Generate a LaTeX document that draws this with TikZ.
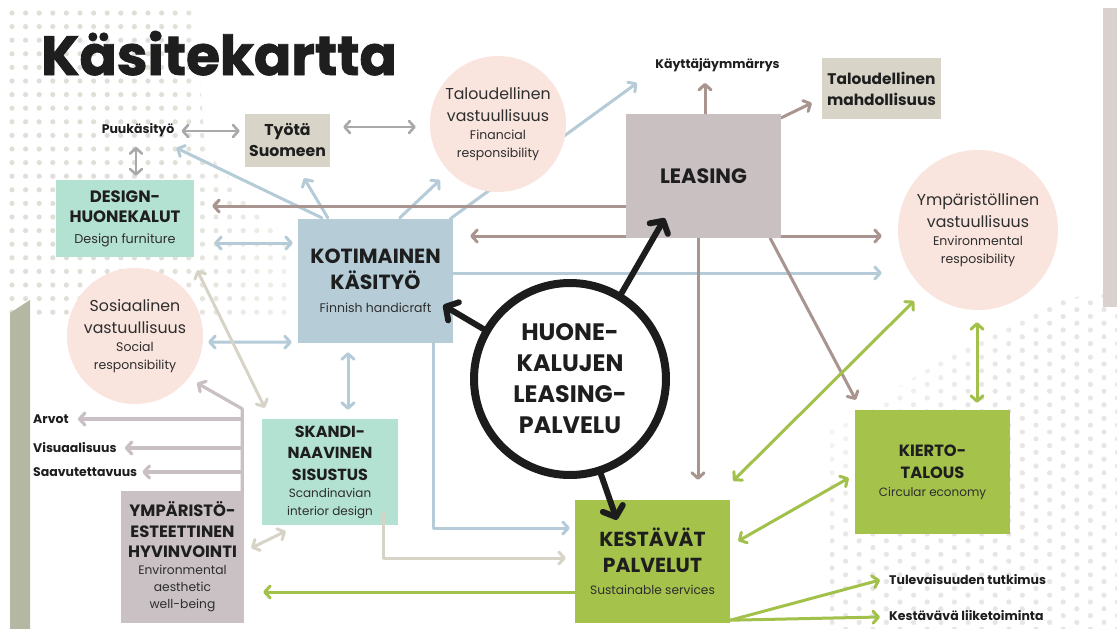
\documentclass[tikz,border=0pt]{standalone}
\usepackage{fontspec}
\setmainfont{Poppins}
\newfontfamily\titlefont{Poppins}[BoldFeatures={FakeBold=1.5}]
\usetikzlibrary{arrows.meta,calc}
\pgfdeclarelayer{dotlayer}
\pgfdeclarelayer{linelayer}
\pgfsetlayers{dotlayer,linelayer,main}
\definecolor{cblue}{HTML}{B5CCD8}
\definecolor{cbrown}{HTML}{A8958F}
\definecolor{cgray}{HTML}{A9A9A9}
\definecolor{cgreen}{HTML}{A2C14A}
\definecolor{cbeige}{HTML}{D7D4C7}
\definecolor{clilac}{HTML}{C9C0C6}
\definecolor{cblack}{HTML}{1C1C1C}
\definecolor{fmint}{HTML}{B3E1D2}
\definecolor{fbluebox}{HTML}{B6CDD8}
\definecolor{fpink}{HTML}{F9E5DE}
\definecolor{ftaupe}{HTML}{D8D4C8}
\definecolor{fleasing}{HTML}{C9C0C2}
\definecolor{fymp}{HTML}{C9C1C4}
\definecolor{fgreen}{HTML}{A5C24B}
\definecolor{stripc}{HTML}{B4B7A1}
\definecolor{rstripc}{HTML}{D9D1CE}
\definecolor{dotone}{HTML}{E0DFD7}
\definecolor{dottwo}{HTML}{EAE5E5}
\definecolor{txt}{HTML}{1E1E1E}
\definecolor{subtxt}{HTML}{2E2E2E}
\newcommand\Lb[2]{{\bfseries\fontsize{#1}{#1}\selectfont #2}}
\newcommand\Lr[2]{{\color{subtxt}\fontsize{#1}{#1}\selectfont #2}}
\tikzset{
  chev/.tip={Straight Barb[length=5.5pt,width=12pt,round]},
  bchev/.tip={Straight Barb[length=9pt,width=21pt,round]},
  box/.style={rectangle, inner sep=0pt, align=center, text=txt},
  circ/.style={circle, fill=fpink, inner sep=0pt, align=center, text=txt},
  lbl/.style={inner sep=0pt, text=txt, font=\bfseries\fontsize{12.5}{14}\selectfont},
  conn/.style={line width=3pt, line cap=round, line join=round},
  garr/.style={conn, line width=2.6pt, draw=cgray},
  barr/.style={conn, draw=cblue},
  rarr/.style={conn, draw=cbrown},
  larr/.style={conn, line width=3.2pt, draw=clilac},
  earr/.style={conn, draw=cbeige},
  narr/.style={conn, draw=cgreen},
  karr/.style={line width=6pt, line cap=round, line join=round, draw=cblack, -bchev},
}
\begin{document}
\begin{tikzpicture}[x=1pt,y=-1pt]
\useasboundingbox (0,0) rectangle (1117,629);
\begin{pgfonlayer}{dotlayer}
\fill[white] (0,0) rectangle (1117,629);
\begin{scope}
\clip (0,6) -- (195,6) -- (205,150) -- (290,250) -- (290,322) -- (0,322) -- cycle;
\foreach \i in {0,...,21} {
  \foreach \j in {0,...,23} {
    \pgfmathsetmacro\op{min(1,max(0.15,1.6-0.055*\i))}
    \fill[dotone, opacity=\op] ({12+13.6*\i}, {13+13.6*\j}) circle (2.6);
  }
}
\end{scope}
\begin{scope}
\clip (1117,290) -- (1117,629) -- (830,629) -- (830,430) -- (990,330) -- (1060,300) -- cycle;
\foreach \i in {0,...,21} {
  \foreach \j in {0,...,25} {
    \pgfmathsetmacro\xx{832+13.6*\i}
    \pgfmathsetmacro\yy{296+13.6*\j+6.8*mod(\i,2)}
    \pgfmathsetmacro\op{min(1,max(0.12,(\xx-840)/200+(\yy-330)/220))}
    \fill[dottwo, opacity=\op] (\xx,\yy) circle (2.6);
  }
}
\end{scope}
\fill[stripc] (10,313) -- (30,300) -- (30,629) -- (10,629) -- cycle;
\fill[rstripc] (1103,8) rectangle (1117,307);
\end{pgfonlayer}

% title
\node[anchor=base west, inner sep=0pt, text=txt, font=\titlefont\bfseries\fontsize{55}{55}\selectfont] (title) at (41,75) {Käsitekartta};

% nodes
\node[lbl] (puu) at (138,130) {Puukäsityö};
\node[box, fill=ftaupe, minimum width=85, minimum height=53, font=\fontsize{14}{21}\selectfont] (tyota) at (287.5,140.5) {\Lb{15.7}{Työtä}\\\Lb{15.7}{Suomeen}};
\node[box, fill=fmint, minimum width=138, minimum height=77, font=\fontsize{14}{20.5}\selectfont] (design) at (125,218.5) {\Lb{16.5}{DESIGN-}\\\Lb{16.5}{HUONEKALUT}\\\Lr{12.8}{Design furniture}};
\node[circ, minimum size=136, font=\fontsize{11.5}{17.5}\selectfont] (talv) at (498,124) {\Lr{15.8}{Taloudellinen}\\[4.5pt]\Lr{15.8}{vastuullisuus}\\[0.5pt]\Lr{12.5}{Financial}\\\Lr{12.5}{responsibility}};
\node[lbl] (kayt) at (717.5,65) {Käyttäjäymmärrys};
\node[box, fill=fleasing, minimum width=155, minimum height=124] (leasing) at (703.5,176) {\Lb{20.8}{LEASING}};
\node[box, fill=ftaupe, minimum width=119, minimum height=61, font=\fontsize{14}{21}\selectfont] (talm) at (881.5,88.5) {\Lb{15.4}{Taloudellinen}\\\Lb{15.4}{mahdollisuus}};
\node[circ, minimum size=160, font=\fontsize{11.5}{17.5}\selectfont] (ymv) at (978,230) {\Lr{15.8}{Ympäristöllinen}\\[4.5pt]\Lr{15.8}{vastuullisuus}\\[0.5pt]\Lr{12.5}{Environmental}\\\Lr{12.5}{resposibility}};
\node[box, fill=fbluebox, minimum width=155, minimum height=124, font=\fontsize{12}{23}\selectfont] (koti) at (375.5,281) {\Lb{20.5}{KOTIMAINEN}\\[3pt]\Lb{20.5}{KÄSITYÖ}\\\Lr{12.5}{Finnish handicraft}};
\node[circ, minimum size=136, font=\fontsize{11.5}{17.5}\selectfont] (sos) at (135,336) {\Lr{15.8}{Sosiaalinen}\\[4.5pt]\Lr{15.8}{vastuullisuus}\\[0.5pt]\Lr{12.5}{Social}\\\Lr{12.5}{responsibility}};
\node[circle, draw=cblack, line width=8pt, fill=white, inner sep=0pt, minimum size=192, align=center, text=txt, font=\fontsize{22}{31}\selectfont] (hub) at (570,379) {\Lb{23.8}{HUONE-}\\\Lb{23.8}{KALUJEN}\\\Lb{23.8}{LEASING-}\\\Lb{23.8}{PALVELU}};
\node[box, fill=fmint, minimum width=136, minimum height=106, font=\fontsize{12}{17.5}\selectfont] (skandi) at (330,472) {\Lb{16}{SKANDI-}\\[4pt]\Lb{16}{NAAVINEN}\\[4pt]\Lb{16}{SISUSTUS}\\\Lr{12}{Scandinavian}\\\Lr{12}{interior design}};
\node[box, fill=fymp, minimum width=123, minimum height=132, font=\fontsize{12}{17}\selectfont] (ymp) at (182.5,557) {\Lb{16.4}{YMPÄRISTÖ-}\\[3.5pt]\Lb{16.4}{ESTEETTINEN}\\[3.5pt]\Lb{16.4}{HYVINVOINTI}\\\Lr{12.3}{Environmental}\\\Lr{12.3}{aesthetic}\\\Lr{12.3}{well-being}};
\node[box, fill=fgreen, minimum width=155, minimum height=123, font=\fontsize{12}{22.5}\selectfont] (kest) at (652.5,561.5) {\Lb{20.3}{KESTÄVÄT}\\[3.5pt]\Lb{20.3}{PALVELUT}\\\Lr{12.2}{Sustainable services}};
\node[box, fill=fgreen, minimum width=155, minimum height=124, font=\fontsize{12}{18}\selectfont] (kierto) at (932.5,472) {\Lb{16.3}{KIERTO-}\\[4pt]\Lb{16.3}{TALOUS}\\\Lr{12}{Circular economy}};
\node[lbl, anchor=west] (tul) at (889,580) {Tulevaisuuden tutkimus};
\node[lbl, anchor=west] (kestl) at (889,616) {Kestävävä liiketoiminta};
\node[lbl, anchor=west] (arvot) at (33,419) {Arvot};
\node[lbl, anchor=west] (visu) at (33,448) {Visuaalisuus};
\node[lbl, anchor=west] (saav) at (33,472) {Saavutettavuus};

\coordinate (bfree) at (637,83);
\coordinate (lj) at ($(ymp.north east)+(-2,-82)$);

\begin{pgfonlayer}{linelayer}
% gray
\draw[garr, chev-chev] ($(puu.east)+(7,1)$) -- ($(tyota.west)+(-5,-9.5)$);
\draw[garr, chev-chev] ($(tyota.east)+(13,-13.5)$) -- ($(talv.west)+(-14,3)$);
\draw[garr, chev-chev] ($(puu.south)+(-2,10)$) -- ($(design.north)+(11,-4)$);
% blue
\draw[barr, -chev] ($(koti.north west)+(24,-1)$) -- ($(puu.east)+(2,18)$);
\draw[barr, -chev] ($(koti.north west)+(30,-1)$) -- ($(tyota.south)+(16.5,11)$);
\draw[barr, -chev] ($(koti.north west)+(102,-1)$) -- ($(talv.center)+(-58,56)$);
\draw[barr, -chev] ($(koti.north east)+(-3,0)$) -- (bfree);
\draw[barr, chev-chev] ($(design.east)+(20,24.5)$) -- ($(koti.west)+(-5,-38)$);
\draw[barr, chev-chev] ($(sos.east)+(5,6)$) -- ($(koti.south west)+(-6,-1)$);
\draw[barr, chev-chev] ($(koti.south)+(-27.5,9)$) -- ($(skandi.north)+(18,-9)$);
\draw[barr, -chev] ($(koti.south east)+(-20,0)$) |- ($(kest.west)+(-5,-33.5)$);
\draw[barr, -chev] ($(koti.east)+(0,-8)$) -- ($(ymv.west)+(-16,43)$);
% brown
\draw[rarr, -chev] ($(leasing.west)+(0,30)$) -- ($(design.east)+(18,-12.5)$);
\draw[rarr, chev-chev] ($(koti.east)+(17,-45)$) -- ($(ymv.west)+(-16,6)$);
\draw[rarr, -chev] ($(leasing.north)+(1.5,0)$) -- ($(kayt.south)+(-12.5,11)$);
\draw[rarr, -chev] ($(leasing.north east)+(0,4)$) -- ($(talm.west)+(-10,14.5)$);
\draw[rarr, -chev] ($(leasing.south)+(-5.5,0)$) -- ($(kest.north)+(45.5,-20)$);
\draw[rarr, -chev] ($(leasing.south east)+(-11,0)$) -- ($(kierto.north west)+(1,-10)$);
% lilac
\draw[larr, -chev] ($(ymp.north east)+(-2,0)$) -- (lj) -- ($(sos.center)+(62,47)$);
\draw[larr, -chev] (lj |- arvot) -- ($(arvot.east)+(9,0)$);
\draw[larr, -chev] (lj |- visu) -- ($(visu.east)+(8,0)$);
\draw[larr, -chev] (lj |- saav) -- ($(saav.east)+(5,0)$);
% beige
\draw[earr, chev-chev] ($(design.south east)+(3,13)$) -- ($(skandi.north west)+(3,-11)$);
\draw[earr, chev-chev] ($(ymp.east)+(7,-9)$) -- ($(skandi.south west)+(24,6)$);
% green
\draw[narr, -chev] ($(kest.west)+(0,30.5)$) -- ($(ymp.east)+(19,35)$);
\draw[narr, chev-chev] ($(kest.north east)+(3,-19)$) -- ($(ymv.center)+(-64,71)$);
\draw[narr, chev-chev] ($(kest.east)+(8,-20.5)$) -- ($(kierto.west)+(-6,6)$);
\draw[narr, chev-chev] ($(ymv.south)+(-1,12)$) -- ($(kierto.north)+(44.5,-7)$);
\draw[narr, -chev] ($(kest.south east)+(0,-3)$) -- ($(tul.west)+(-9,0)$);
\draw[narr, -chev] ($(kest.south east)+(0,-3)$) -- ($(kestl.west)+(-9,1)$);
\end{pgfonlayer}

% connectors on top of boxes
\draw[earr, -chev] ($(skandi.south east)+(-15,-12)$) |- ($(kest.west)+(-9,-3.5)$);
\draw[karr] (hub.150) -- ($(koti.south east)+(-10,-38)$);
\draw[karr] (hub.59.5) -- ($(leasing.south west)+(39,-20)$);
\draw[karr] (hub.-72) -- ($(kest.north west)+(42,20)$);
\end{tikzpicture}
\end{document}
